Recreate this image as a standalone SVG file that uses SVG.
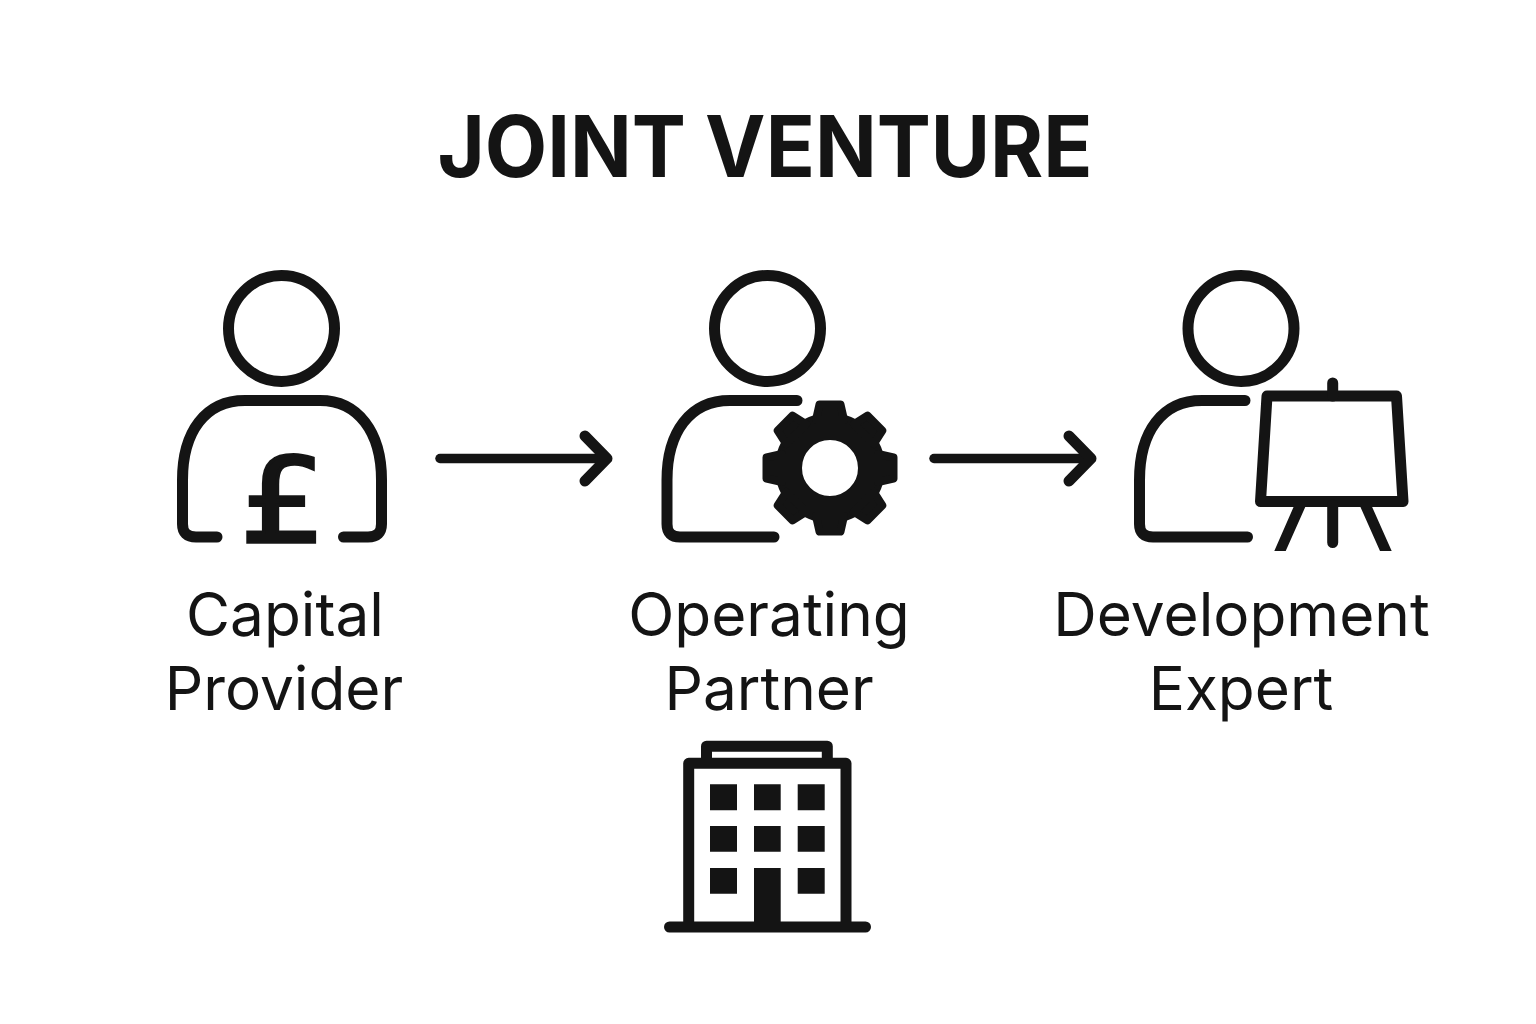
<svg xmlns="http://www.w3.org/2000/svg" width="1536" height="1024" viewBox="0 0 1536 1024">
<style>
.ln{fill:none;stroke:#141414;stroke-width:11;stroke-linecap:round;stroke-linejoin:round}
.bt{fill:none;stroke:#141414;stroke-width:11;stroke-linecap:butt;stroke-linejoin:round}
.ar{fill:none;stroke:#141414;stroke-width:9.500;stroke-linecap:round;stroke-linejoin:round}
.hd{fill:none;stroke:#141414;stroke-width:11;stroke-linecap:round;stroke-linejoin:round}
.f{fill:#141414}
.title{font:650 85px Inter,"Liberation Sans",sans-serif;fill:#141414;text-anchor:middle}
.lab{font:400 60.300px Inter,"Liberation Sans",sans-serif;fill:#141414;text-anchor:middle}
.pound{font:400 118px "DejaVu Sans",sans-serif;fill:#141414;stroke:#141414;stroke-width:3.500;text-anchor:middle}
</style>
<defs>
<path id="tooth" d="M-10.500,-63.500L10.500,-63.500L14,-48L-14,-48Z" fill="#141414" stroke="#141414" stroke-width="8" stroke-linejoin="round"/>
</defs>
<rect width="1536" height="1024" fill="#fff"/>
<text id="title" class="title" transform="translate(765,177) scale(0.954,1)">JOINT VENTURE</text>
<g id="connectors">
<path class="ar" d="M440,458.500H606"/>
<path class="hd" d="M585,436L607,458.500L585,481"/>
<path class="ar" d="M934,458.500H1090"/>
<path class="hd" d="M1069,436L1091,458.500L1069,481"/>
</g>
<g id="capital-provider">
<circle class="ln" cx="281.500" cy="328.500" r="53"/>
<path class="ln" d="M217,537H196Q182.500,537 182.500,524V480C182.500,432 205,400.500 245,400.500H320C358,400.500 381.500,432 381.500,480V524Q381.500,537 368,537H343.500"/>
<text class="pound" transform="translate(283,541.500) scale(1.15,1)">£</text>
<text class="lab" x="285" y="636">Capital</text>
<text class="lab" x="284" y="710">Provider</text>
</g>
<g id="operating-partner">
<circle class="ln" cx="767.500" cy="328.500" r="53"/>
<path class="ln" d="M774,537H680Q667,537 667,524V480C667,432 690,400.500 730,400.500H797"/>
<g transform="translate(830,468)">
<circle r="41.500" fill="none" stroke="#141414" stroke-width="27"/>
<use href="#tooth"/><use href="#tooth" transform="rotate(45)"/><use href="#tooth" transform="rotate(90)"/><use href="#tooth" transform="rotate(135)"/><use href="#tooth" transform="rotate(180)"/><use href="#tooth" transform="rotate(225)"/><use href="#tooth" transform="rotate(270)"/><use href="#tooth" transform="rotate(315)"/>
</g>
<text class="lab" x="769" y="636">Operating</text>
<text class="lab" x="769" y="710">Partner</text>
</g>
<g id="development-expert">
<circle class="ln" cx="1241" cy="328.500" r="53"/>
<path class="ln" d="M1247.500,537H1153Q1139.500,537 1139.500,524V480C1139.500,432 1162,400.500 1202,400.500H1245"/>
<path class="ln" d="M1267,396H1396.500L1403,501.500H1260.500Z"/>
<path class="ln" d="M1332.700,383V396M1332.700,505V542.500"/>
<path class="f" d="M1294,506H1305.700L1285.700,551H1274.300ZM1360,506H1371.700L1391.700,551H1380Z"/>
<text class="lab" x="1241.500" y="636">Development</text>
<text class="lab" x="1241" y="710">Expert</text>
</g>
<g id="building">
<path class="bt" d="M706.500,758V746.200H827.300V758"/>
<path class="bt" d="M688.700,927V763.300H846V927"/>
<path class="ln" d="M669.500,927H865.500"/>
<path class="f" d="M710,784.300h27v26h-27zM754,784.300h26.700v26h-26.700zM797.700,784.300h27v26h-27zM710,826h27v25.700h-27zM754,826h26.700v25.700h-26.700zM797.700,826h27v25.700h-27zM710,868h27v25.700h-27zM754,868h26.700v59h-26.700zM797.700,868h27v25.700h-27z"/>
</g>
</svg>
